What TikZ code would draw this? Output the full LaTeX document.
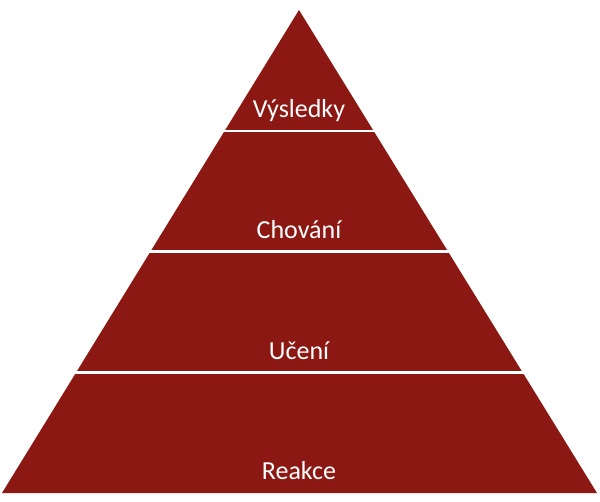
\documentclass[tikz,border=0pt]{standalone}
\usepackage{fontspec}
\setmainfont{Carlito}
\definecolor{pyr}{RGB}{140,24,20}
\begin{document}
\begin{tikzpicture}[x=1pt,y=-1pt,
  lbl/.style={text=white,font=\fontsize{26}{30}\selectfont,inner sep=0pt,anchor=base},
  sep/.style={white,line width=2.5pt}]
\useasboundingbox (0,0) rectangle (600,501);
\coordinate (apex) at (299,10);
\coordinate (bl) at (2,493);
\coordinate (br) at (597,493);
\fill[pyr] (apex) -- (br) -- (bl) -- cycle;
\coordinate (s1l) at (0,130.75);  \coordinate (s1r) at (600,130.75);
\coordinate (s2l) at (0,251.5);   \coordinate (s2r) at (600,251.5);
\coordinate (s3l) at (0,372.25);  \coordinate (s3r) at (600,372.25);
\draw[sep] (s1l) -- (s1r);
\draw[sep] (s2l) -- (s2r);
\draw[sep] (s3l) -- (s3r);
\node[lbl] (t1) at (299,117) {Výsledky};
\node[lbl] (t2) at (299,238) {Chování};
\node[lbl] (t3) at (299,359) {Učení};
\node[lbl] (t4) at (299,479.5) {Reakce};
\end{tikzpicture}
\end{document}
